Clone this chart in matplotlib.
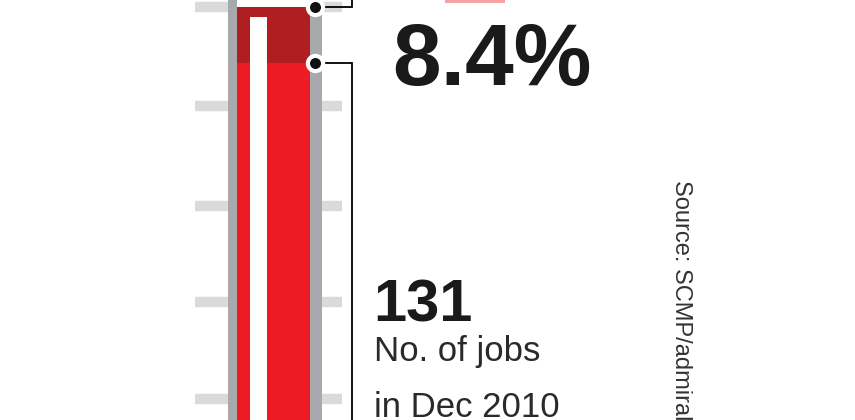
import matplotlib
matplotlib.use("Agg")
import matplotlib.pyplot as plt

# Values
jobs_now = 142          # top of the dark red column
jobs_dec_2010 = 131     # top of the bright red column
growth_label = "8.4%"
base_label = "131"
base_caption = ["No. of jobs", "in Dec 2010"]
source_text = "Source: SCMP/admiral"
tick_levels = [142, 122.5, 103, 84, 65]
stripe_top = 140

# colours
red = "#ed1c24"
dark_red = "#b01e22"
tube_grey = "#a7a9ac"
tick_grey = "#d9dadc"

fig = plt.figure(figsize=(8.55, 4.2), dpi=100)
ax = fig.add_axes([0, 0, 1, 1])
ax.set_xlim(0, 855)
ax.set_ylim(60.9, 143.4)
ax.axis("off")

# scale ticks either side of the tube
ax.hlines(tick_levels, 195, 228, color=tick_grey, lw=7.5)
ax.hlines(tick_levels, 322, 342, color=tick_grey, lw=7.5)

# tube: grey casing, white inside
ax.bar(275, 200, width=94, bottom=0, color=tube_grey, linewidth=0)
ax.bar(273.5, 200, width=73, bottom=0, color="white", linewidth=0)

# fluid
ax.bar(273.5, jobs_now, width=73, bottom=0, color=dark_red, linewidth=0)
ax.bar(273.5, jobs_dec_2010, width=73, bottom=0, color=red, linewidth=0)

# white highlight stripe
ax.bar(258.5, stripe_top, width=17, bottom=0, color="white", linewidth=0)

# leader lines
ax.plot([315, 352, 352], [jobs_now, jobs_now, 150], color="black", lw=1.3,
        solid_joinstyle="miter")
ax.plot([315, 352, 352], [jobs_dec_2010, jobs_dec_2010, 50], color="black", lw=1.3,
        solid_joinstyle="miter")
ax.scatter([315, 315], [jobs_now, jobs_dec_2010], s=120, color="#111111",
           edgecolor="white", linewidth=3, zorder=5)

# small red label peeking at the top
ax.add_patch(plt.Rectangle((445, 142.9), 60, 1, color="#f4a3a3", linewidth=0))

# texts
ax.text(392, 126.7, growth_label, fontsize=63, fontweight="bold",
        family="Liberation Sans", color="#1a1a1a",
        va="baseline", ha="left")
ax.text(373, 80.2, base_label, fontsize=43, fontweight="bold",
        family="Liberation Sans", color="#1a1a1a",
        va="baseline", ha="left")
ax.text(374, 72.5, base_caption[0], fontsize=25,
        family="Liberation Sans", color="#2a2a2a",
        va="baseline", ha="left")
ax.text(374, 61.5, base_caption[1], fontsize=25,
        family="Liberation Sans", color="#2a2a2a",
        va="baseline", ha="left")
ax.text(681, 108.0, source_text, fontsize=17, rotation=270,
        family="Liberation Sans", color="#333333",
        va="top", ha="center")

fig.savefig("out.png", dpi=100)
